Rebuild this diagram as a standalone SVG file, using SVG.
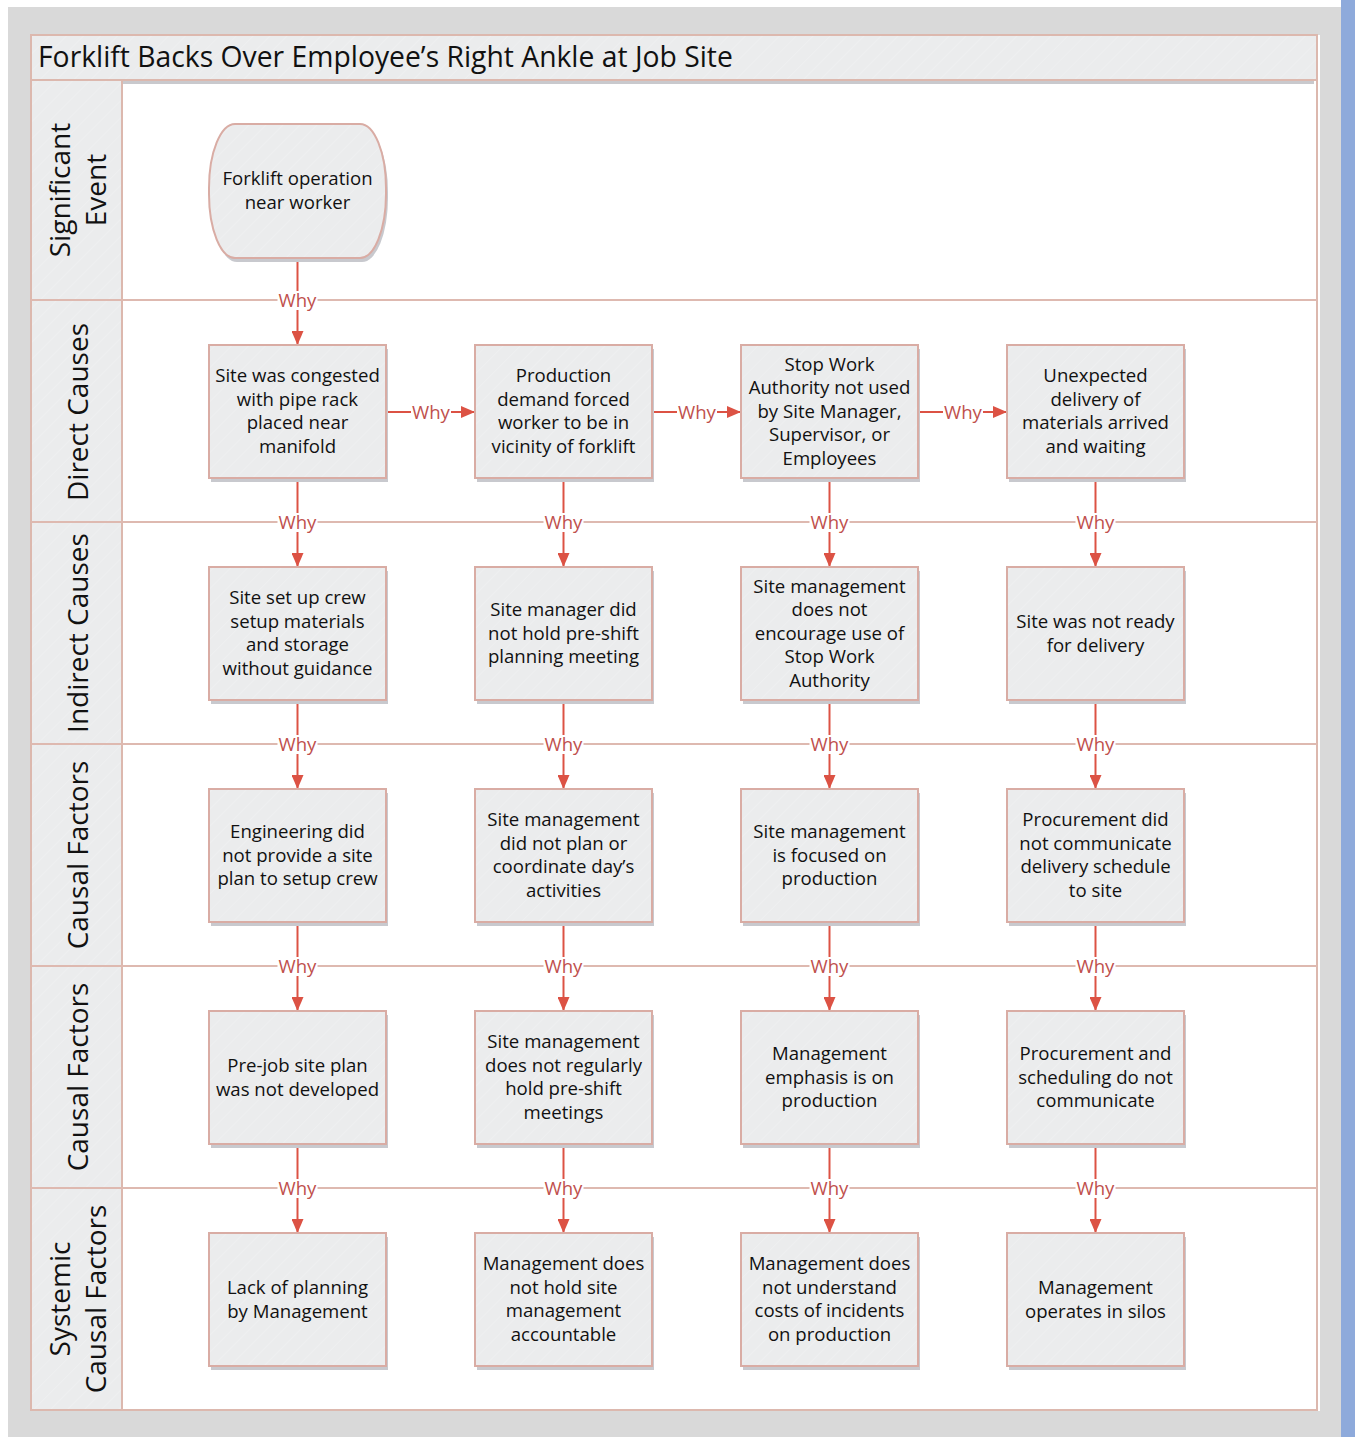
<svg xmlns="http://www.w3.org/2000/svg" width="1355" height="1437" viewBox="0 0 1355 1437">
  <defs>
    <pattern id="hatch" patternUnits="userSpaceOnUse" width="12" height="12" patternTransform="rotate(45)">
      <rect width="12" height="12" fill="#ebeced"/>
      <line x1="0" y1="0" x2="0" y2="12" stroke="#f0f1f2" stroke-width="1.5"/>
    </pattern>
    <marker id="arrow" viewBox="0 0 14 12" refX="14" refY="6" markerWidth="14" markerHeight="12" markerUnits="userSpaceOnUse" orient="auto">
      <path d="M0,0 L14,6 L0,12 Z" fill="#dc5244"/>
    </marker>
    <style>
      .frame { fill: url(#hatch); stroke: #dcb8ae; stroke-width: 2; }
      .lane-line { stroke: #deb9b0; stroke-width: 2; fill: none; }
      .lane-label { font-family: "Open Sans", "Noto Sans", sans-serif; font-size: 28px; fill: #111; text-anchor: middle; }
      .title { font-family: "Open Sans", "Noto Sans", sans-serif; font-size: 28.3px; fill: #111; }
      .box { fill: url(#hatch); stroke: #d9aca4; stroke-width: 2; }
      .shadow { fill: #c8c9ce; }
      .node text { font-family: "Open Sans", "Noto Sans", sans-serif; font-size: 18.6px; fill: #111; text-anchor: middle; }
      .conn { stroke: #dc5244; stroke-width: 2; fill: none; marker-end: url(#arrow); }
      .why-bg { fill: #ffffff; }
      .why { font-family: "Open Sans", "Noto Sans", sans-serif; font-size: 18.6px; fill: #c0504d; text-anchor: middle; }
    </style>
  </defs>

  <!-- page backdrop -->
  <rect x="0" y="0" width="1355" height="1437" fill="#ffffff"/>
  <rect x="8" y="7" width="1333" height="1430" fill="#d9d9d9"/>
  <rect x="1341" y="0" width="14" height="1437" fill="#8eaadb"/>

  <!-- pool -->
  <g id="pool">
    <rect x="31" y="35" width="1286" height="1375" fill="#ffffff" stroke="#dcb8ae" stroke-width="2"/>
    <line x1="1319" y1="35" x2="1319" y2="1411" stroke="#ffffff" stroke-width="2"/>
    <rect x="32" y="80" width="1282" height="4" fill="#c9c9cd"/>
    <rect x="31" y="35" width="1286" height="45" class="frame"/>
    <text class="title" x="38" y="67">Forklift Backs Over Employee’s Right Ankle at Job Site</text>
    <rect x="31" y="80" width="91" height="1330" class="frame"/>
  </g>

  <!-- lane separators -->
  <g id="lanes">
    <line class="lane-line" x1="31" y1="300" x2="1317" y2="300"/>
    <line class="lane-line" x1="31" y1="522" x2="1317" y2="522"/>
    <line class="lane-line" x1="31" y1="744" x2="1317" y2="744"/>
    <line class="lane-line" x1="31" y1="966" x2="1317" y2="966"/>
    <line class="lane-line" x1="31" y1="1188" x2="1317" y2="1188"/>
    <text class="lane-label" transform="translate(70,190) rotate(-90)">Significant</text>
    <text class="lane-label" transform="translate(106,190) rotate(-90)">Event</text>
    <text class="lane-label" transform="translate(88,412) rotate(-90)">Direct Causes</text>
    <text class="lane-label" transform="translate(88,633) rotate(-90)">Indirect Causes</text>
    <text class="lane-label" transform="translate(88,855) rotate(-90)">Causal Factors</text>
    <text class="lane-label" transform="translate(88,1077) rotate(-90)">Causal Factors</text>
    <text class="lane-label" transform="translate(70,1299) rotate(-90)">Systemic</text>
    <text class="lane-label" transform="translate(106,1299) rotate(-90)">Causal Factors</text>
  </g>

  <!-- connectors -->
  <g id="connectors">
    <!-- event to first direct cause -->
    <line class="conn" x1="297.5" y1="258" x2="297.5" y2="345"/>
    <!-- horizontal chain along direct causes -->
    <line class="conn" x1="386" y1="412" x2="475" y2="412"/>
    <line class="conn" x1="652" y1="412" x2="741" y2="412"/>
    <line class="conn" x1="918" y1="412" x2="1007" y2="412"/>
    <!-- column 1 -->
    <line class="conn" x1="297.5" y1="478" x2="297.5" y2="567"/>
    <line class="conn" x1="297.5" y1="700" x2="297.5" y2="789"/>
    <line class="conn" x1="297.5" y1="922" x2="297.5" y2="1011"/>
    <line class="conn" x1="297.5" y1="1144" x2="297.5" y2="1233"/>
    <!-- column 2 -->
    <line class="conn" x1="563.5" y1="478" x2="563.5" y2="567"/>
    <line class="conn" x1="563.5" y1="700" x2="563.5" y2="789"/>
    <line class="conn" x1="563.5" y1="922" x2="563.5" y2="1011"/>
    <line class="conn" x1="563.5" y1="1144" x2="563.5" y2="1233"/>
    <!-- column 3 -->
    <line class="conn" x1="829.5" y1="478" x2="829.5" y2="567"/>
    <line class="conn" x1="829.5" y1="700" x2="829.5" y2="789"/>
    <line class="conn" x1="829.5" y1="922" x2="829.5" y2="1011"/>
    <line class="conn" x1="829.5" y1="1144" x2="829.5" y2="1233"/>
    <!-- column 4 -->
    <line class="conn" x1="1095.5" y1="478" x2="1095.5" y2="567"/>
    <line class="conn" x1="1095.5" y1="700" x2="1095.5" y2="789"/>
    <line class="conn" x1="1095.5" y1="922" x2="1095.5" y2="1011"/>
    <line class="conn" x1="1095.5" y1="1144" x2="1095.5" y2="1233"/>

    <!-- "Why" labels -->
    <g id="why-labels">
      <rect class="why-bg" x="277.5" y="291" width="40" height="19"/><text class="why" x="297.5" y="307">Why</text>
      <rect class="why-bg" x="411" y="403" width="40" height="19"/><text class="why" x="431" y="419">Why</text>
      <rect class="why-bg" x="677" y="403" width="40" height="19"/><text class="why" x="697" y="419">Why</text>
      <rect class="why-bg" x="943" y="403" width="40" height="19"/><text class="why" x="963" y="419">Why</text>

      <rect class="why-bg" x="277.5" y="513" width="40" height="19"/><text class="why" x="297.5" y="529">Why</text>
      <rect class="why-bg" x="543.5" y="513" width="40" height="19"/><text class="why" x="563.5" y="529">Why</text>
      <rect class="why-bg" x="809.5" y="513" width="40" height="19"/><text class="why" x="829.5" y="529">Why</text>
      <rect class="why-bg" x="1075.5" y="513" width="40" height="19"/><text class="why" x="1095.5" y="529">Why</text>

      <rect class="why-bg" x="277.5" y="735" width="40" height="19"/><text class="why" x="297.5" y="751">Why</text>
      <rect class="why-bg" x="543.5" y="735" width="40" height="19"/><text class="why" x="563.5" y="751">Why</text>
      <rect class="why-bg" x="809.5" y="735" width="40" height="19"/><text class="why" x="829.5" y="751">Why</text>
      <rect class="why-bg" x="1075.5" y="735" width="40" height="19"/><text class="why" x="1095.5" y="751">Why</text>

      <rect class="why-bg" x="277.5" y="957" width="40" height="19"/><text class="why" x="297.5" y="973">Why</text>
      <rect class="why-bg" x="543.5" y="957" width="40" height="19"/><text class="why" x="563.5" y="973">Why</text>
      <rect class="why-bg" x="809.5" y="957" width="40" height="19"/><text class="why" x="829.5" y="973">Why</text>
      <rect class="why-bg" x="1075.5" y="957" width="40" height="19"/><text class="why" x="1095.5" y="973">Why</text>

      <rect class="why-bg" x="277.5" y="1179" width="40" height="19"/><text class="why" x="297.5" y="1195">Why</text>
      <rect class="why-bg" x="543.5" y="1179" width="40" height="19"/><text class="why" x="563.5" y="1195">Why</text>
      <rect class="why-bg" x="809.5" y="1179" width="40" height="19"/><text class="why" x="829.5" y="1195">Why</text>
      <rect class="why-bg" x="1075.5" y="1179" width="40" height="19"/><text class="why" x="1095.5" y="1195">Why</text>
    </g>
  </g>

  <!-- significant event -->
  <g id="event" class="node">
    <rect class="shadow" x="211" y="128" width="177" height="134" rx="26" ry="64"/>
    <rect class="box" x="209" y="124" width="177" height="134" rx="26" ry="64"/>
    <text><tspan x="297.5" y="185">Forklift operation</tspan><tspan x="297.5" y="208.5">near worker</tspan></text>
  </g>

  <!-- direct causes -->
  <g id="dc1" class="node">
    <rect class="shadow" x="211" y="349" width="177" height="133"/>
    <rect class="box" x="209" y="345" width="177" height="133"/>
    <text><tspan x="297.5" y="382">Site was congested</tspan><tspan x="297.5" y="406">with pipe rack</tspan><tspan x="297.5" y="429">placed near</tspan><tspan x="297.5" y="453">manifold</tspan></text>
  </g>
  <g id="dc2" class="node">
    <rect class="shadow" x="477" y="349" width="177" height="133"/>
    <rect class="box" x="475" y="345" width="177" height="133"/>
    <text><tspan x="563.5" y="382">Production</tspan><tspan x="563.5" y="406">demand forced</tspan><tspan x="563.5" y="429">worker to be in</tspan><tspan x="563.5" y="453">vicinity of forklift</tspan></text>
  </g>
  <g id="dc3" class="node">
    <rect class="shadow" x="743" y="349" width="177" height="133"/>
    <rect class="box" x="741" y="345" width="177" height="133"/>
    <text><tspan x="829.5" y="370.5">Stop Work</tspan><tspan x="829.5" y="394">Authority not used</tspan><tspan x="829.5" y="417.5">by Site Manager,</tspan><tspan x="829.5" y="441">Supervisor, or</tspan><tspan x="829.5" y="464.5">Employees</tspan></text>
  </g>
  <g id="dc4" class="node">
    <rect class="shadow" x="1009" y="349" width="177" height="133"/>
    <rect class="box" x="1007" y="345" width="177" height="133"/>
    <text><tspan x="1095.5" y="382">Unexpected</tspan><tspan x="1095.5" y="406">delivery of</tspan><tspan x="1095.5" y="429">materials arrived</tspan><tspan x="1095.5" y="453">and waiting</tspan></text>
  </g>

  <!-- indirect causes -->
  <g id="ic1" class="node">
    <rect class="shadow" x="211" y="571" width="177" height="133"/>
    <rect class="box" x="209" y="567" width="177" height="133"/>
    <text><tspan x="297.5" y="604">Site set up crew</tspan><tspan x="297.5" y="628">setup materials</tspan><tspan x="297.5" y="651">and storage</tspan><tspan x="297.5" y="675">without guidance</tspan></text>
  </g>
  <g id="ic2" class="node">
    <rect class="shadow" x="477" y="571" width="177" height="133"/>
    <rect class="box" x="475" y="567" width="177" height="133"/>
    <text><tspan x="563.5" y="616">Site manager did</tspan><tspan x="563.5" y="639.5">not hold pre-shift</tspan><tspan x="563.5" y="663">planning meeting</tspan></text>
  </g>
  <g id="ic3" class="node">
    <rect class="shadow" x="743" y="571" width="177" height="133"/>
    <rect class="box" x="741" y="567" width="177" height="133"/>
    <text><tspan x="829.5" y="592.5">Site management</tspan><tspan x="829.5" y="616">does not</tspan><tspan x="829.5" y="639.5">encourage use of</tspan><tspan x="829.5" y="663">Stop Work</tspan><tspan x="829.5" y="686.5">Authority</tspan></text>
  </g>
  <g id="ic4" class="node">
    <rect class="shadow" x="1009" y="571" width="177" height="133"/>
    <rect class="box" x="1007" y="567" width="177" height="133"/>
    <text><tspan x="1095.5" y="628">Site was not ready</tspan><tspan x="1095.5" y="651.5">for delivery</tspan></text>
  </g>

  <!-- causal factors, first level -->
  <g id="cf1" class="node">
    <rect class="shadow" x="211" y="793" width="177" height="133"/>
    <rect class="box" x="209" y="789" width="177" height="133"/>
    <text><tspan x="297.5" y="838">Engineering did</tspan><tspan x="297.5" y="861.5">not provide a site</tspan><tspan x="297.5" y="885">plan to setup crew</tspan></text>
  </g>
  <g id="cf2" class="node">
    <rect class="shadow" x="477" y="793" width="177" height="133"/>
    <rect class="box" x="475" y="789" width="177" height="133"/>
    <text><tspan x="563.5" y="826">Site management</tspan><tspan x="563.5" y="850">did not plan or</tspan><tspan x="563.5" y="873">coordinate day’s</tspan><tspan x="563.5" y="897">activities</tspan></text>
  </g>
  <g id="cf3" class="node">
    <rect class="shadow" x="743" y="793" width="177" height="133"/>
    <rect class="box" x="741" y="789" width="177" height="133"/>
    <text><tspan x="829.5" y="838">Site management</tspan><tspan x="829.5" y="861.5">is focused on</tspan><tspan x="829.5" y="885">production</tspan></text>
  </g>
  <g id="cf4" class="node">
    <rect class="shadow" x="1009" y="793" width="177" height="133"/>
    <rect class="box" x="1007" y="789" width="177" height="133"/>
    <text><tspan x="1095.5" y="826">Procurement did</tspan><tspan x="1095.5" y="850">not communicate</tspan><tspan x="1095.5" y="873">delivery schedule</tspan><tspan x="1095.5" y="897">to site</tspan></text>
  </g>

  <!-- causal factors, second level -->
  <g id="cg1" class="node">
    <rect class="shadow" x="211" y="1015" width="177" height="133"/>
    <rect class="box" x="209" y="1011" width="177" height="133"/>
    <text><tspan x="297.5" y="1072">Pre-job site plan</tspan><tspan x="297.5" y="1095.5">was not developed</tspan></text>
  </g>
  <g id="cg2" class="node">
    <rect class="shadow" x="477" y="1015" width="177" height="133"/>
    <rect class="box" x="475" y="1011" width="177" height="133"/>
    <text><tspan x="563.5" y="1048">Site management</tspan><tspan x="563.5" y="1072">does not regularly</tspan><tspan x="563.5" y="1095">hold pre-shift</tspan><tspan x="563.5" y="1119">meetings</tspan></text>
  </g>
  <g id="cg3" class="node">
    <rect class="shadow" x="743" y="1015" width="177" height="133"/>
    <rect class="box" x="741" y="1011" width="177" height="133"/>
    <text><tspan x="829.5" y="1060">Management</tspan><tspan x="829.5" y="1083.5">emphasis is on</tspan><tspan x="829.5" y="1107">production</tspan></text>
  </g>
  <g id="cg4" class="node">
    <rect class="shadow" x="1009" y="1015" width="177" height="133"/>
    <rect class="box" x="1007" y="1011" width="177" height="133"/>
    <text><tspan x="1095.5" y="1060">Procurement and</tspan><tspan x="1095.5" y="1083.5">scheduling do not</tspan><tspan x="1095.5" y="1107">communicate</tspan></text>
  </g>

  <!-- systemic causal factors -->
  <g id="sc1" class="node">
    <rect class="shadow" x="211" y="1237" width="177" height="133"/>
    <rect class="box" x="209" y="1233" width="177" height="133"/>
    <text><tspan x="297.5" y="1294">Lack of planning</tspan><tspan x="297.5" y="1317.5">by Management</tspan></text>
  </g>
  <g id="sc2" class="node">
    <rect class="shadow" x="477" y="1237" width="177" height="133"/>
    <rect class="box" x="475" y="1233" width="177" height="133"/>
    <text><tspan x="563.5" y="1270">Management does</tspan><tspan x="563.5" y="1294">not hold site</tspan><tspan x="563.5" y="1317">management</tspan><tspan x="563.5" y="1341">accountable</tspan></text>
  </g>
  <g id="sc3" class="node">
    <rect class="shadow" x="743" y="1237" width="177" height="133"/>
    <rect class="box" x="741" y="1233" width="177" height="133"/>
    <text><tspan x="829.5" y="1270">Management does</tspan><tspan x="829.5" y="1294">not understand</tspan><tspan x="829.5" y="1317">costs of incidents</tspan><tspan x="829.5" y="1341">on production</tspan></text>
  </g>
  <g id="sc4" class="node">
    <rect class="shadow" x="1009" y="1237" width="177" height="133"/>
    <rect class="box" x="1007" y="1233" width="177" height="133"/>
    <text><tspan x="1095.5" y="1294">Management</tspan><tspan x="1095.5" y="1317.5">operates in silos</tspan></text>
  </g>
</svg>
